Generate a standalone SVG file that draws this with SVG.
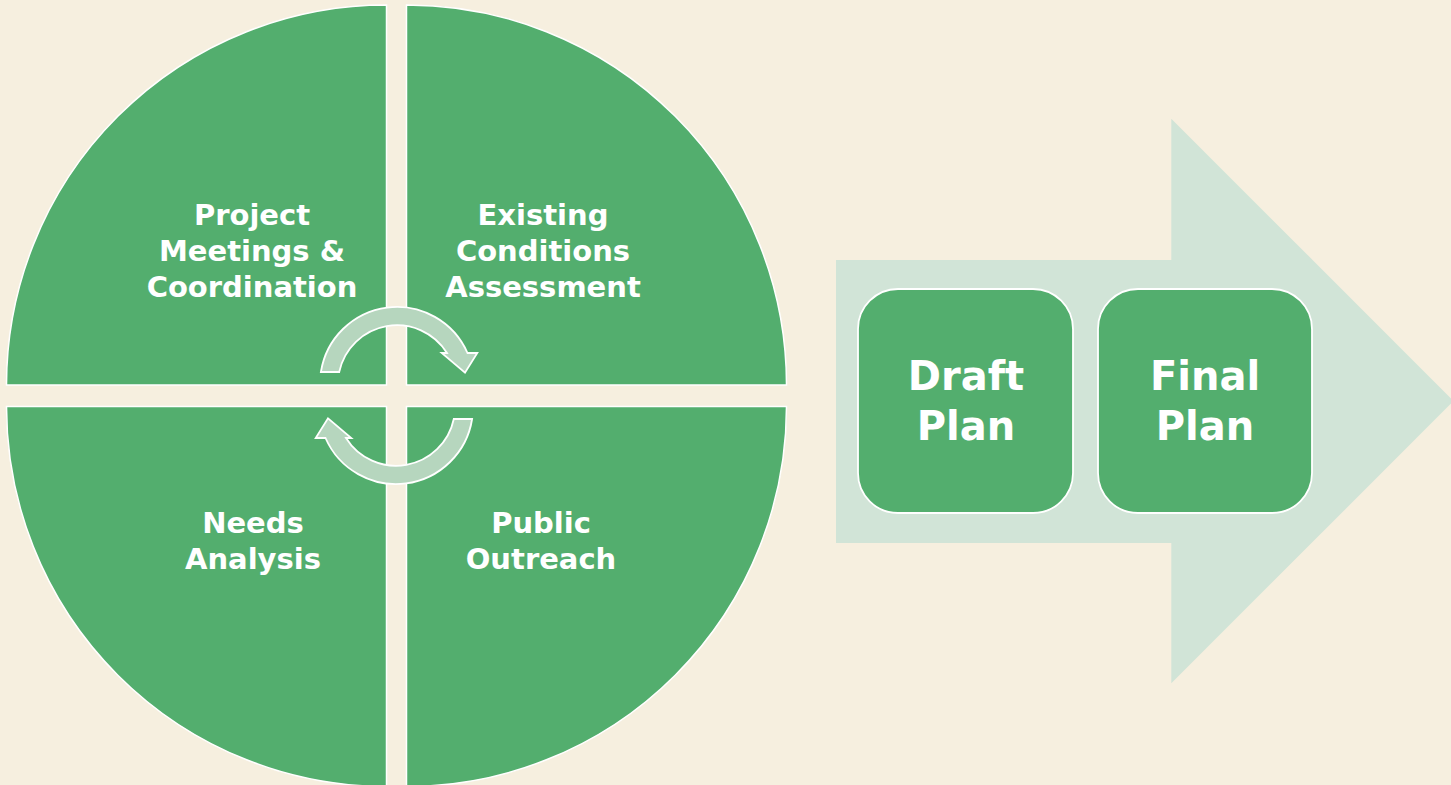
<svg xmlns="http://www.w3.org/2000/svg" width="1451" height="785" viewBox="0 0 1451 785">
<style>
.quad{fill:#53ae6e;stroke:#ffffff;stroke-width:1.5}
.cyc{fill:#b6d6be;stroke:#ffffff;stroke-width:1.8}
.big{fill:#d1e4d7}
.box{fill:#53ae6e;stroke:#ffffff;stroke-width:1.8}
.lbl{font-family:"DejaVu Sans",sans-serif;font-weight:bold;fill:#ffffff;text-anchor:middle}
.q{font-size:29px}
.p{font-size:40px}
</style>
<rect width="1451" height="785" fill="#f6efdf"/>
<g id="flow-arrow">
<polygon class="big" points="836,260 1171.3,260 1171.3,118.7 1453.6,401 1171.3,683.3 1171.3,543 836,543"/>
</g>
<g id="q-project">
<path class="quad" d="M386.5,385 L6.5,385 A380,380 0 0 1 386.5,5 Z"/>
<text class="lbl q" x="252" y="225">Project</text>
<text class="lbl q" x="252" y="261">Meetings &amp;</text>
<text class="lbl q" x="252" y="297">Coordination</text>
</g>
<g id="q-existing">
<path class="quad" d="M406.5,385 L406.5,5 A380,380 0 0 1 786.5,385 Z"/>
<text class="lbl q" x="543" y="225">Existing</text>
<text class="lbl q" x="543" y="261">Conditions</text>
<text class="lbl q" x="543" y="297">Assessment</text>
</g>
<g id="q-needs">
<path class="quad" d="M386.5,406.5 L386.5,786.5 A380,380 0 0 1 6.5,406.5 Z"/>
<text class="lbl q" x="253" y="533">Needs</text>
<text class="lbl q" x="253" y="569">Analysis</text>
</g>
<g id="q-public">
<path class="quad" d="M406.5,406.5 L786.5,406.5 A380,380 0 0 1 406.5,786.5 Z"/>
<text class="lbl q" x="541" y="533">Public</text>
<text class="lbl q" x="541" y="569">Outreach</text>
</g>
<g id="connectors">
<path id="cycle-top" class="cyc" d="M320.9,372 A77,77 0 0 1 467.5,353 L477.3,353 L465,372.7 L441.7,353 L447,353 A59,59 0 0 0 339.2,372 Z"/>
<path id="cycle-bottom" class="cyc" transform="rotate(180 396.5 395.5)" d="M320.9,372 A77,77 0 0 1 467.5,353 L477.3,353 L465,372.7 L441.7,353 L447,353 A59,59 0 0 0 339.2,372 Z"/>
</g>
<g id="draft-plan">
<rect class="box" x="858" y="289" width="215" height="224" rx="40" ry="40"/>
<text class="lbl p" x="966" y="390">Draft</text>
<text class="lbl p" x="966" y="440">Plan</text>
</g>
<g id="final-plan">
<rect class="box" x="1098" y="289" width="214" height="224" rx="40" ry="40"/>
<text class="lbl p" x="1205" y="390">Final</text>
<text class="lbl p" x="1205" y="440">Plan</text>
</g>
</svg>
